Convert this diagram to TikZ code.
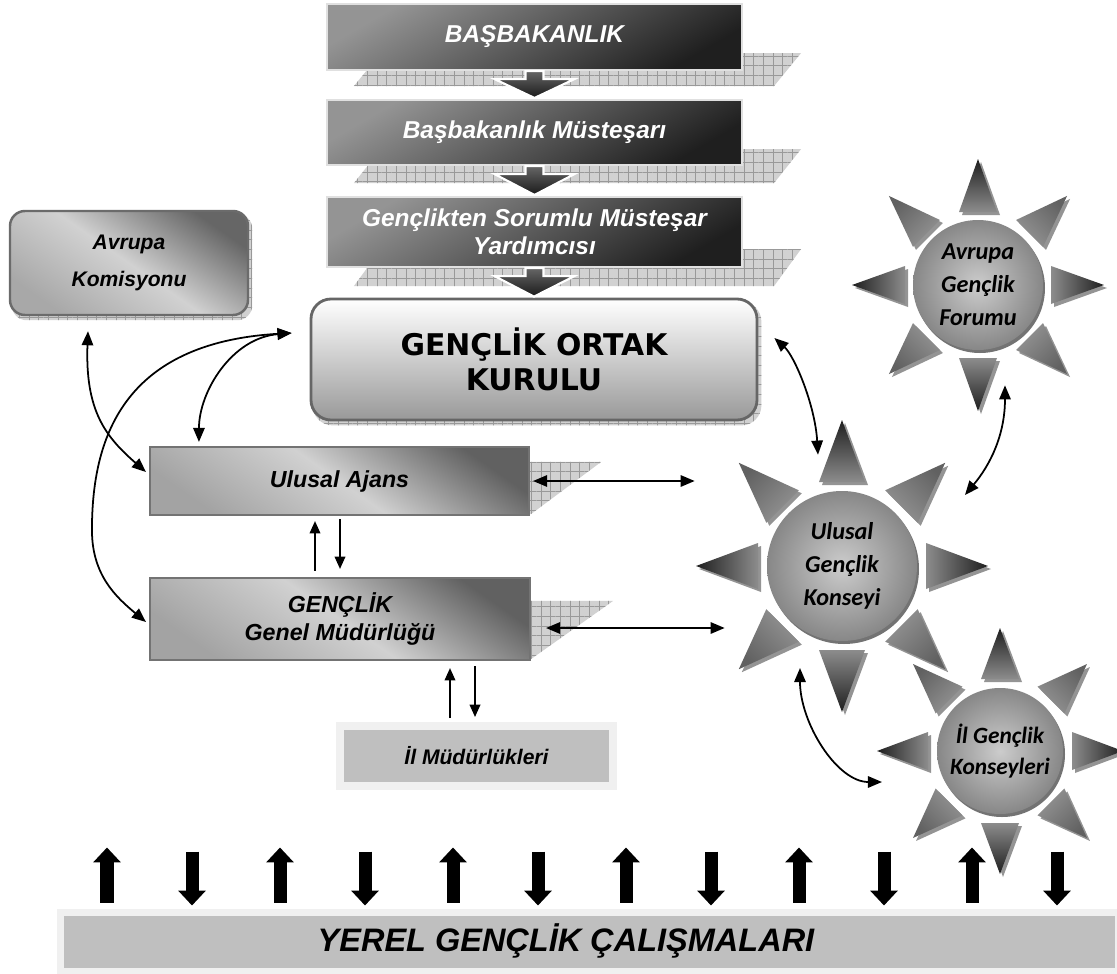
\documentclass[tikz,border=0pt]{standalone}
\usepackage{fontspec}
\setmainfont{Liberation Sans}
\newfontfamily\calfont{Carlito}
\newfontfamily\gokfont{DejaVu Sans}
\usetikzlibrary{calc,arrows.meta,patterns.meta,backgrounds}
\def\pxu{0.02cm}
\tikzset{
 shadowpat/.style={fill=black!18, postaction={pattern={Hatch[distance=5.5pt,angle=0,line width=0.35pt]}, pattern color=black!40}},
 darkbox/.style={rectangle, draw=black!12, line width=1.2pt, top color=black!42, bottom color=black!88, shading angle=30, text=white, font=\bfseries\itshape\fontsize{13.9}{16}\selectfont, align=center, inner sep=0pt},
 darkarrow/.style={shade, draw=white, line width=1.2pt, top color=black!60, bottom color=black!90},
 midbox/.style={rectangle, draw=black!55, line width=1.2pt, top color=black!62, bottom color=black!36, middle color=black!18, shading angle=-35, font=\bfseries\itshape\fontsize{13.2}{16}\selectfont, align=center, inner sep=0pt},
 rbox/.style={rectangle, rounded corners=0.3cm, draw=black!58, line width=1.4pt, top color=black!60, bottom color=black!34, middle color=black!18, shading angle=-35, font=\bfseries\itshape\fontsize{12}{21}\selectfont, align=center, inner sep=0pt},
 gokbox/.style={rectangle, rounded corners=0.4cm, draw=black!60, line width=1.6pt, top color=white, bottom color=black!40, font=\gokfont\bfseries\fontsize{17}{20}\selectfont, align=center, inner sep=0pt},
 flatbox/.style={rectangle, draw=black!6, fill=black!25, inner sep=0pt},
 suncirc/.style={circle, inner color=black!20, outer color=black!47, inner sep=0pt, font=\calfont\bfseries\itshape\fontsize{13.8}{18.7}\selectfont, align=center},
 conn/.style={line width=1pt, arrows={Triangle[length=8pt,width=6.5pt]-Triangle[length=8pt,width=6.5pt]}},
 oneway/.style={line width=1pt, arrows={-Triangle[length=7pt,width=6pt]}},
 blockarrow/.style={line width=7.4pt, arrows={-Triangle[length=8.5pt,width=15.3pt]}},
}
\newcommand\sunrays[4]{%
  \foreach \a in {0,45,...,315}{%
    \pgfmathsetmacro\sux{cos(\a)}%
    \pgfmathsetmacro\suy{-sin(\a)}%
    \pgfmathsetmacro\spx{-sin(\a)}%
    \pgfmathsetmacro\spy{-cos(\a)}%
    \pgfmathsetmacro\sha{\a-90}%
    \pgfmathtruncatemacro\isdiag{mod(\a,90)}%
    \ifnum\isdiag=0 \def\raytop{black!88}\def\raybot{black!45}\else\def\raytop{black!62}\def\raybot{black!42}\fi
    \fill[black!42] ($(#1)+({#3*(\sux)+3},{#3*(\suy)+3})$) -- ($(#1)+({#2*(\sux)+#4*(\spx)+3},{#2*(\suy)+#4*(\spy)+3})$) -- ($(#1)+({#2*(\sux)-#4*(\spx)+3},{#2*(\suy)-#4*(\spy)+3})$) -- cycle;
    \shade[top color=\raytop, bottom color=\raybot, shading angle=\sha] ($(#1)+({#3*(\sux)},{#3*(\suy)})$) -- ($(#1)+({#2*(\sux)+#4*(\spx)},{#2*(\suy)+#4*(\spy)})$) -- ($(#1)+({#2*(\sux)-#4*(\spx)},{#2*(\suy)-#4*(\spy)})$) -- cycle;
  }%
}
\begin{document}
\begin{tikzpicture}[x=0.02cm,y=-0.02cm]
\useasboundingbox (0,0) rectangle (1117,974);
\clip (0,0) rectangle (1117,974);
% boxes
\node[darkbox, minimum width=415*\pxu, minimum height=66*\pxu] (b1) at (534.5,37) {BAŞBAKANLIK};
\node[darkbox, minimum width=415*\pxu, minimum height=65*\pxu] (b2) at (534.5,132.5) {Başbakanlık Müsteşarı};
\node[darkbox, minimum width=415*\pxu, minimum height=70*\pxu] (b3) at (534.5,232) {Gençlikten Sorumlu Müsteşar\\Yardımcısı};
\node[gokbox, minimum width=446*\pxu, minimum height=121*\pxu] (gok) at (534,359.5) {GENÇLİK ORTAK\\KURULU};
\node[rbox, minimum width=238*\pxu, minimum height=104*\pxu] (ak) at (129,263) {Avrupa\\Komisyonu};
\node[midbox, minimum width=379*\pxu, minimum height=68*\pxu] (ua) at (339.5,481) {Ulusal Ajans};
\node[midbox, minimum width=380*\pxu, minimum height=82*\pxu] (gm) at (340,619) {GENÇLİK\\Genel Müdürlüğü};
\node[flatbox, line width=8*\pxu, minimum width=273*\pxu, minimum height=60*\pxu, font=\bfseries\itshape\fontsize{12}{14}\selectfont] (ilm) at (476.5,756) {İl Müdürlükleri};
\node[flatbox, line width=7*\pxu, minimum width=1058*\pxu, minimum height=59*\pxu] (yerel) at (589.5,941.5) {};
\node[font=\bfseries\itshape\fontsize{18.5}{21}\selectfont] (yerelt) at (566,941) {YEREL GENÇLİK ÇALIŞMALARI};
% shadows
\begin{scope}[on background layer]
\fill[white] (0,0) rectangle (1117,974);
\foreach \b/\dt/\db in {b1/18/15, b2/17/17, b3/19/18}{
  \path[shadowpat] ($(\b.south west)+(28,\db)$) -- ($(\b.south east)+(31,\db)$) -- ($(\b.south east)+(58,-\dt)$) -- ($(\b.south west)+(55,-\dt)$) -- cycle;
}
\path[shadowpat] ($(ua.north east)+(-2,16)$) -- ($(ua.north east)+(71,16)$) -- ($(ua.south east)+(1,-2)$) -- ($(ua.south east)+(-2,-2)$) -- cycle;
\path[shadowpat] ($(gm.north east)+(-2,24)$) -- ($(gm.north east)+(82,24)$) -- ($(gm.south east)+(0,-2)$) -- ($(gm.south east)+(-2,-2)$) -- cycle;
\path[shadowpat, rounded corners=0.4cm] ($(gok.north west)+(3,4)$) rectangle ($(gok.south east)+(3,4)$);
\path[shadowpat, rounded corners=0.3cm] ($(ak.north west)+(3,4)$) rectangle ($(ak.south east)+(3,4)$);
\end{scope}
% arrows between top boxes
\foreach \f/\t in {b1/b2, b2/b3, b3/gok}{
  \path[darkarrow] ($(\f.south)+(-9,0)$) -- ($(\f.south)+(9,0)$) -- ($(\f.south)+(9,8)$) -- ($(\f.south)+(40,8)$) -- ($(\t.north)+(0,-1)$) -- ($(\f.south)+(-40,8)$) -- ($(\f.south)+(-9,8)$) -- cycle;
}
% suns
\coordinate (agfc) at (978,285);
\sunrays{agfc}{73}{126}{19}
\fill[black!55] ($(agfc)+(2,3)$) circle[radius=65*\pxu];
\node[suncirc, minimum size=130*\pxu] (agf) at (agfc) {Avrupa\\Gençlik\\Forumu};
\coordinate (ugkc) at (842,566);
\sunrays{ugkc}{84}{146}{23}
\fill[black!55] ($(ugkc)+(2,3)$) circle[radius=75*\pxu];
\node[suncirc, minimum size=150*\pxu] (ugk) at (ugkc) {Ulusal\\Gençlik\\Konseyi};
\coordinate (igkc) at (1000,751);
\sunrays{igkc}{72}{123}{19}
\fill[black!55] ($(igkc)+(2,3)$) circle[radius=63*\pxu];
\node[suncirc, minimum size=126*\pxu, font=\calfont\bfseries\itshape\fontsize{13.3}{17.6}\selectfont] (igk) at (igkc) {İl Gençlik\\Konseyleri};
% connectors
\draw[conn] ($(ak.south)+(-41,15)$) .. controls +(-3,80) and +(-40,-35) .. ($(ua.west)+(-3,-9)$);
\coordinate (gokL) at ($(gok.west)+(-18,-26.5)$);
\coordinate (bend) at ($(gm.west)+(-57,-89)$);
\draw[conn] (gokL) .. controls +(-170,10) and +(0,-90) .. (bend) .. controls +(0,45) and +(-30,-25) .. ($(gm.west)+(-3,3)$);
\draw[conn] (gokL) .. controls +(-60,5) and +(0,-50) .. ($(ua.north west)+(50,-4)$);
\draw[conn] ($(gok.east)+(16,-21.5)$) .. controls +(20,18) and +(-3,-50) .. ($(ugk.north)+(-24,-36)$);
\draw[conn] ($(agf.south)+(27,35)$) .. controls +(0,50) and +(25,-30) .. ($(ugk.center)+(123,-71)$);
\draw[conn] ($(ua.east)+(3,0)$) -- ($(ua.east -| ugk.west)+(-72,0)$);
\draw[conn] ($(gm.east)+(15,9)$) -- ($(gm.east -| ugk.west)+(-42,9)$);
\draw[oneway] ($(gm.north)+(-25,-6)$) -- ($(ua.south)+(-24.5,5)$);
\draw[oneway] ($(ua.south)+(0.5,3)$) -- ($(gm.north)+(0,-8)$);
\draw[oneway] ($(ilm.north)+(-26.5,-4)$) -- ($(gm.south)+(110,7)$);
\draw[oneway] ($(gm.south)+(135,5)$) -- ($(ilm.north)+(-1.5,-5)$);
\draw[conn] ($(ugk.center)+(-42,102)$) .. controls +(0,55) and +(-45,0) .. ($(igk.center)+(-118,31)$);
% bottom block arrows
\foreach \i in {0,...,5}{
  \draw[blockarrow] ($(yerel.north west)+(50+173*\i,-6)$) -- ($(yerel.north west)+(50+173*\i,-61)$);
  \draw[blockarrow] ($(yerel.north west)+(135+173*\i,-57)$) -- ($(yerel.north west)+(135+173*\i,-3)$);
}
\end{tikzpicture}
\end{document}
